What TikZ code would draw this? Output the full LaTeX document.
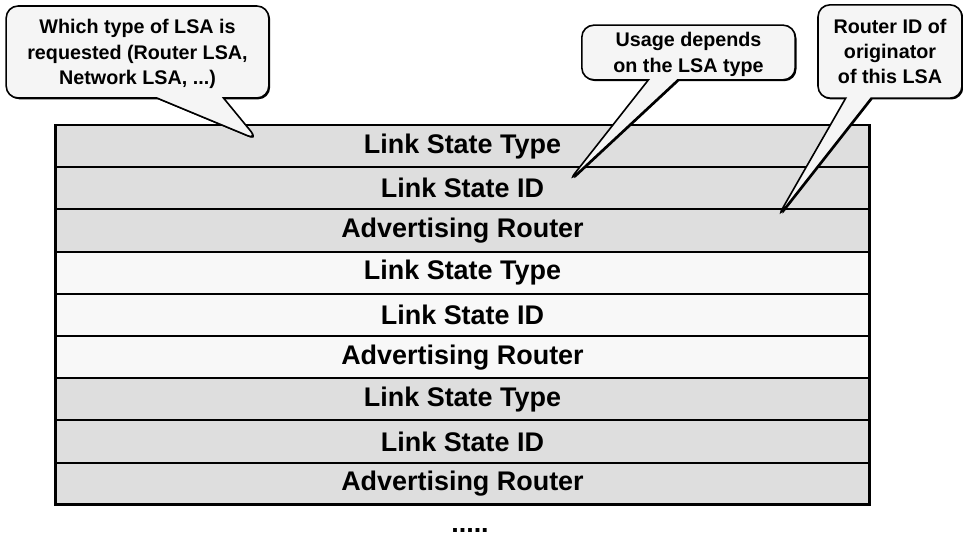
\documentclass[tikz,border=0pt]{standalone}
\usepackage{fontspec}
\setmainfont{Liberation Sans}
\usetikzlibrary{shapes.callouts,shadows}
\definecolor{rowdark}{HTML}{DEDEDE}
\definecolor{rowlight}{HTML}{F8F8F8}
\definecolor{notefill}{HTML}{F5F5F5}
\begin{document}
\begin{tikzpicture}[x=0.75pt,y=-0.75pt]
\useasboundingbox (0,0) rectangle (963,538);

\tikzset{rowstyle/.style={draw,line width=1.5pt,minimum width=611pt,minimum height=31.65pt,
  inner sep=0pt,outer sep=0pt,font=\fontsize{20.2}{24}\selectfont\bfseries}};
\node[rowstyle,fill=rowdark] (type1) at (462.5,146.1) {Link State Type};
\node[rowstyle,fill=rowdark] (id1) at (462.5,188.3) {Link State ID};
\node[rowstyle,fill=rowdark] (adv1) at (462.5,230.5) {Advertising Router};
\node[rowstyle,fill=rowlight] (type2) at (462.5,272.7) {Link State Type};
\node[rowstyle,fill=rowlight] (id2) at (462.5,314.9) {Link State ID};
\node[rowstyle,fill=rowlight] (adv2) at (462.5,357.1) {Advertising Router};
\node[rowstyle,fill=rowdark] (type3) at (462.5,399.3) {Link State Type};
\node[rowstyle,fill=rowdark] (id3) at (462.5,441.5) {Link State ID};
\node[rowstyle,fill=rowdark] (adv3) at (462.5,483.7) {Advertising Router};
\draw[line width=2.2pt] (type1.north west) rectangle (adv3.south east);
\node[inner sep=0pt,font=\fontsize{20.2}{24}\selectfont\bfseries] (more) at (470,530) {.....};

% where the notes point
\coordinate (tipType) at (258,140);
\coordinate (tipId) at (568,182);
\coordinate (tipAdv) at (777,218);

\tikzset{notestyle/.style={rectangle callout,draw,line width=1.2pt,fill=notefill,rounded corners=9pt,
  align=center,inner sep=2pt,text depth=-8pt,font=\fontsize{14.8}{19}\selectfont\bfseries,
  drop shadow={shadow xshift=1pt,shadow yshift=-1pt,fill=black,opacity=1}}};
\node[notestyle,minimum width=197pt,minimum height=69pt,callout pointer width=50pt,
  callout absolute pointer={(tipType)}] (noteType) at (137.5,52)
  {Which type of LSA is\\requested (Router LSA,\\Network LSA, ...)};
\node[notestyle,minimum width=160pt,minimum height=41pt,callout pointer width=22pt,
  callout absolute pointer={(tipId)}] (noteId) at (688.5,52.5)
  {Usage depends\\on the LSA type};
\node[notestyle,minimum width=108pt,minimum height=70pt,callout pointer width=19pt,
  callout absolute pointer={(tipAdv)}] (noteAdv) at (890,51.5)
  {Router ID of\\originator\\of this LSA};
\end{tikzpicture}
\end{document}
